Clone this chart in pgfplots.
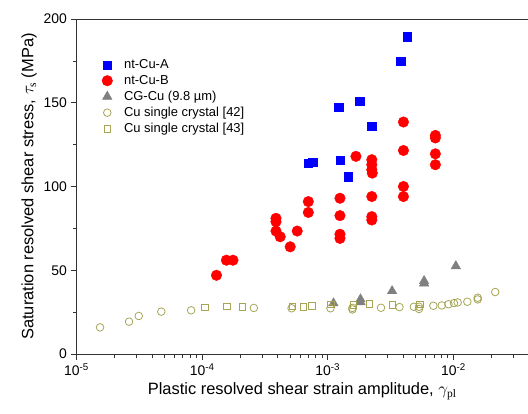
\documentclass[border=0pt]{standalone}
\usepackage{amsmath}
\usepackage{fontspec}
\setmainfont{Liberation Sans}
\newfontfamily\serifsub{Liberation Serif}
\usepackage{pgfplots}
\pgfplotsset{compat=1.18}
\definecolor{olivepts}{RGB}{165,165,85}
\definecolor{graypts}{RGB}{128,128,128}
\begin{document}
\begin{tikzpicture}
\begin{axis}[
  scale only axis,
  width=451.5bp, height=335bp,
  xmode=log,
  xmin=1e-5, xmax=0.0392,
  ymin=0, ymax=200,
  axis x line=box,
  axis y line=left,
  axis line style={line width=0.9pt, black!80, -},
  tick pos=left,
  tick align=outside,
  major tick length=6bp,
  minor tick length=3.5bp,
  every tick/.style={line width=0.7pt, black!80},
  xtick={1e-5,1e-4,1e-3,1e-2},
  xticklabels={10\textsuperscript{-5},10\textsuperscript{-4},10\textsuperscript{-3},10\textsuperscript{-2}},
  minor xtick={2e-5,3e-5,4e-5,5e-5,6e-5,7e-5,8e-5,9e-5,2e-4,3e-4,4e-4,5e-4,6e-4,7e-4,8e-4,9e-4,2e-3,3e-3,4e-3,5e-3,6e-3,7e-3,8e-3,9e-3,2e-2,3e-2},
  ytick={0,50,100,150,200},
  minor ytick={25,75,125,175},
  /pgf/number format/assume math mode=true,
  tick label style={font=\fontsize{14}{16}\selectfont},
  label style={font=\fontsize{16.5}{19}\selectfont},
  xlabel={Plastic resolved shear strain amplitude, $\gamma_{\text{\serifsub pl}}$},
  ylabel={Saturation resolved shear stress, $\tau_{\text{\serifsub s}}$ (MPa)},
  legend style={at={(0.056,0.885)}, anchor=north west, draw=none, fill=none,
    font=\fontsize{13}{15}\selectfont, inner sep=0pt, row sep=1.2bp, column sep=9.5bp},
  legend cell align=left,
  clip=false,
]
\addplot[only marks, mark=square*, mark size=4.2bp, color=blue, mark options={fill=blue, draw=blue}]
coordinates {
(0.00429,189.4) (0.00381,174.7) (0.001225,147.3) (0.00179,150.9) (0.00223,136.1)
(0.0007,113.8) (0.000759,114.4) (0.00125,115.6) (0.001456,105.8)
};
\addlegendentry{nt-Cu-A}
\addplot[only marks, mark=*, mark size=5.3bp, color=red, mark options={fill=red, draw=red}]
coordinates {
(0.00013,47) (0.000156,56) (0.000176,56)
(0.000387,81) (0.000387,79) (0.000387,73.4) (0.000418,70) (0.000502,64) (0.000571,73.4)
(0.0007,91) (0.0007,84.5)
(0.00125,93) (0.00125,82.6) (0.00125,71.5) (0.00125,69)
(0.001675,118)
(0.00224,116) (0.00224,113) (0.00224,110) (0.00226,108) (0.00224,94) (0.00224,82) (0.00224,80)
(0.004,138.5) (0.004,121.5) (0.004,100) (0.004,94)
(0.00718,130.5) (0.00718,129) (0.00718,119.5) (0.00718,113)
};
\addlegendentry{nt-Cu-B}
\addplot[only marks, mark=triangle*, mark size=5.5bp, color=graypts, mark options={fill=graypts, draw=graypts}]
coordinates {
(0.00111,30.3) (0.00182,32.7) (0.00182,31) (0.00325,37.6) (0.00584,43.6) (0.00584,42.2) (0.01045,52.5)
};
\addlegendentry{CG-Cu (9.8 µm)}
\addplot[only marks, mark=o, mark size=3.8bp, color=olivepts, mark options={line width=0.8pt, draw=olivepts}]
coordinates {
(1.54e-5,15.9) (2.62e-5,19.3) (3.13e-5,22.7) (4.73e-5,25.3) (8.17e-5,26.1)
(2.58e-4,27.5) (5.15e-4,27.3) (1.05e-3,27.3) (1.57e-3,27.5) (1.57e-3,26.6)
(2.65e-3,27.6) (3.72e-3,28) (4.84e-3,28.2) (5.32e-3,28.2) (5.32e-3,26.9)
(6.92e-3,28.8) (8.07e-3,29) (9.12e-3,29.7) (1.01e-2,30.4) (1.08e-2,30.8)
(1.29e-2,31.2) (1.56e-2,33.6) (1.56e-2,32.6) (2.15e-2,37)
};
\addlegendentry{Cu single crystal [42]}
\addplot[only marks, mark=square, mark size=3.2bp, color=olivepts, mark options={line width=0.8pt, draw=olivepts}]
coordinates {
(1.05e-4,28) (1.57e-4,28.5) (2.1e-4,28.2) (5.21e-4,28.5) (6.39e-4,28.2) (7.45e-4,28.8)
(1.06e-3,29.7) (1.6e-3,29.4) (2.14e-3,29.9) (3.25e-3,29.3) (5.41e-3,29.7)
};
\addlegendentry{Cu single crystal [43]}
\end{axis}
\pgfresetboundingbox
\useasboundingbox (-76.5bp,-60bp) rectangle (451.5bp,354bp);
\end{tikzpicture}
\end{document}
